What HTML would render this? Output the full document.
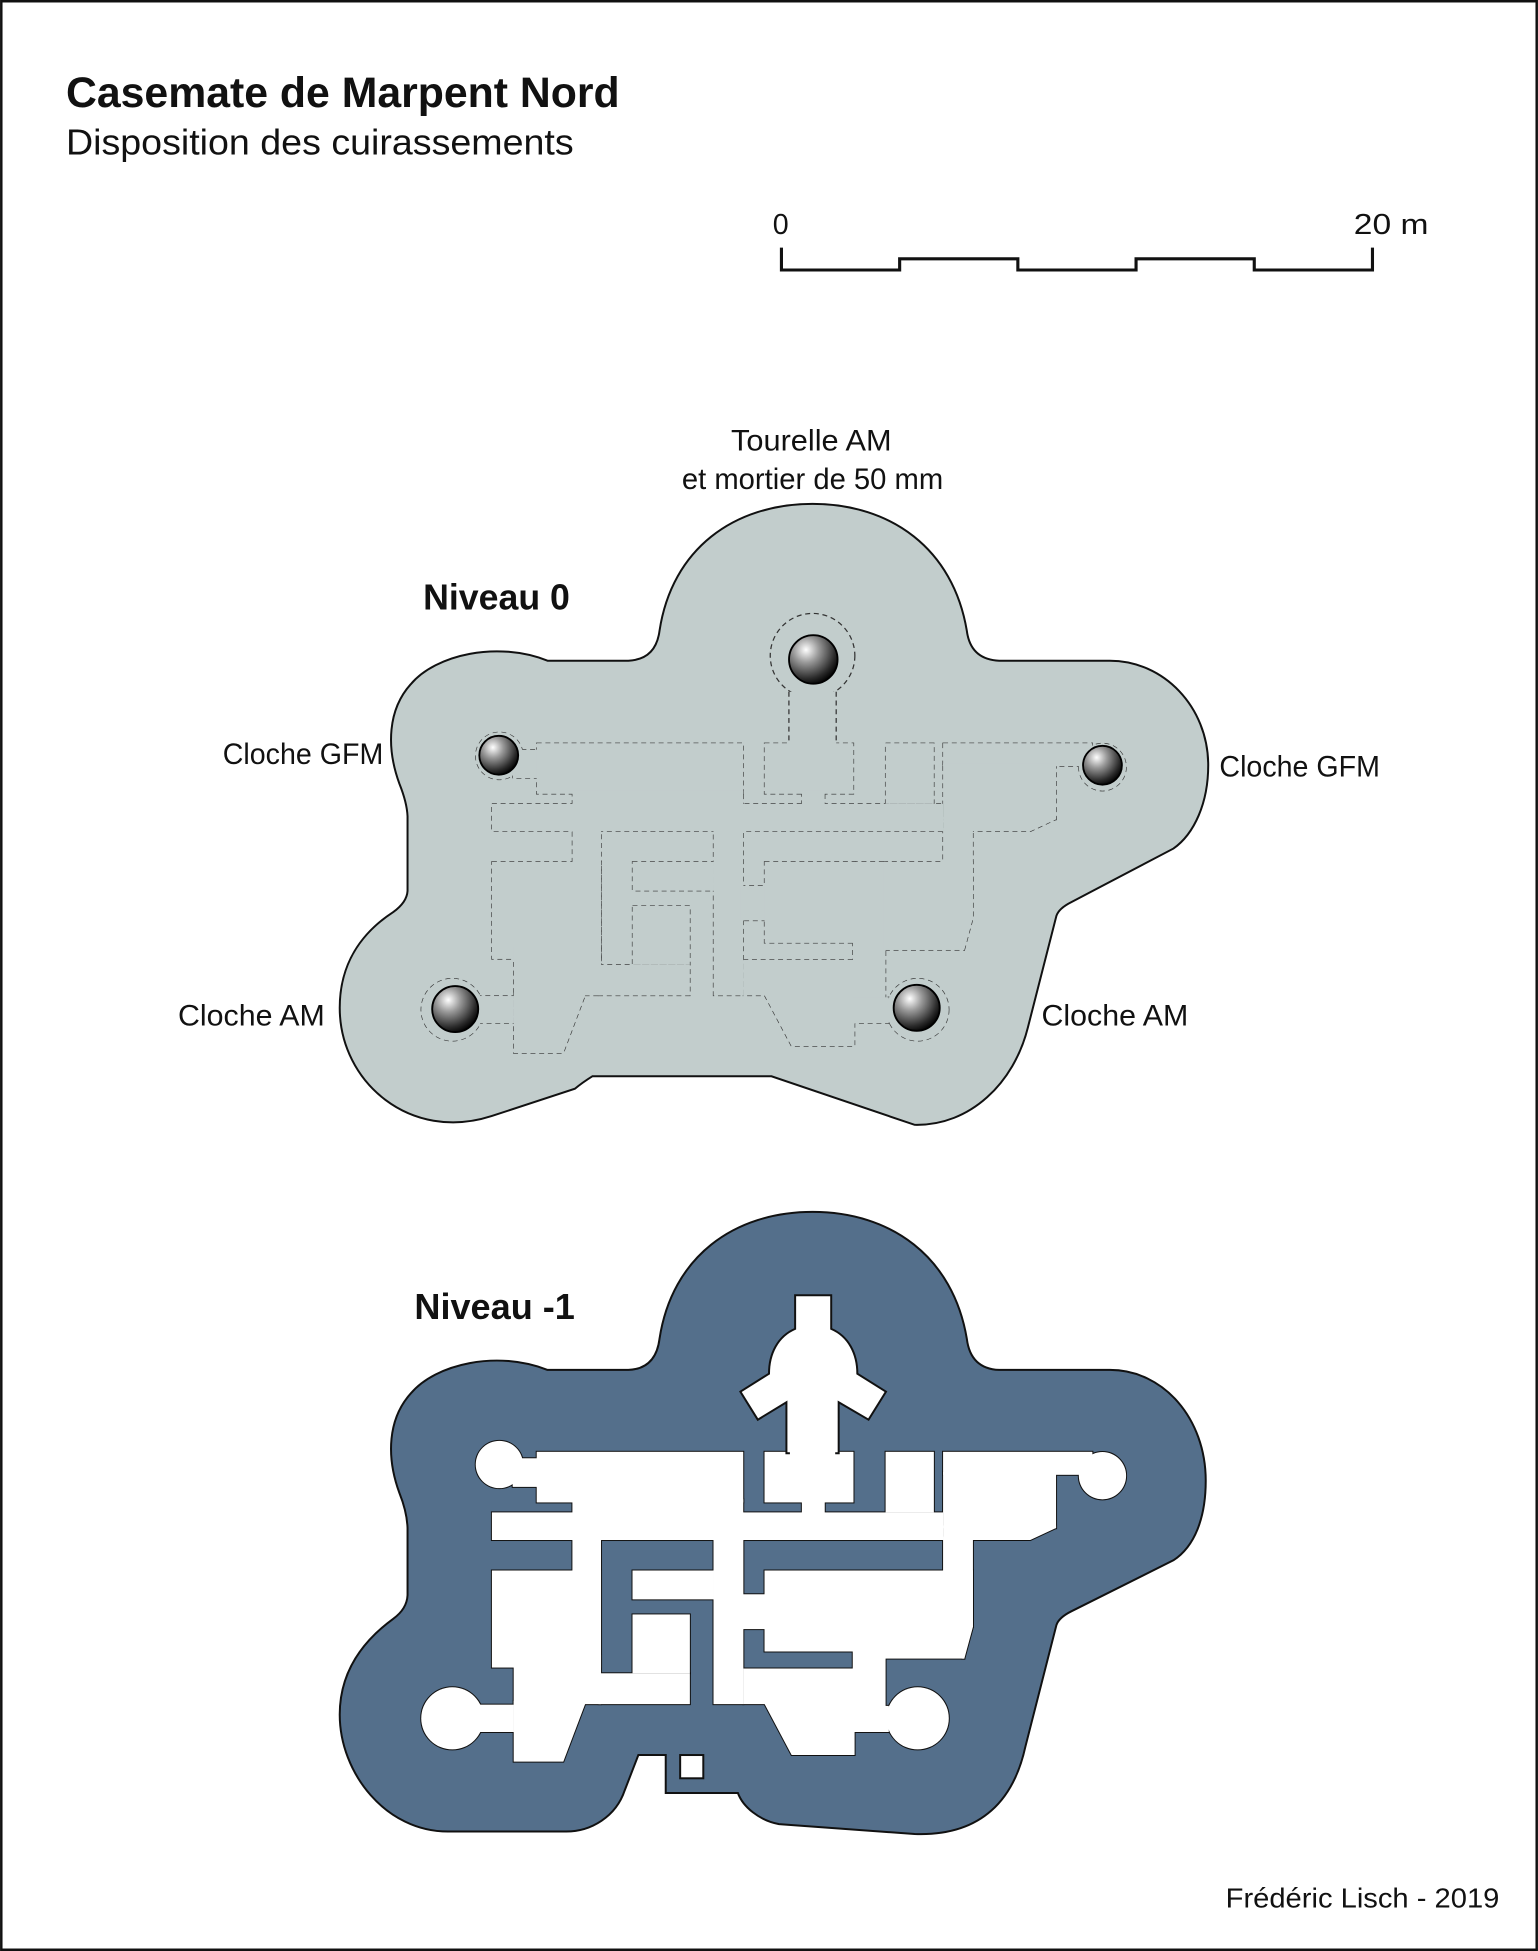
<!DOCTYPE html>
<html><head><meta charset="utf-8"><style>
html,body{margin:0;padding:0;background:#fff}
svg{display:block}
text{font-family:"Liberation Sans",sans-serif;fill:#111}
</style></head><body>
<svg width="1538" height="1951" viewBox="0 0 1236 1568" xmlns="http://www.w3.org/2000/svg">
<defs>
<radialGradient id="ball" cx="0.35" cy="0.3" r="0.75">
<stop offset="0" stop-color="#ffffff"/><stop offset="0.35" stop-color="#9a9a9a"/><stop offset="0.8" stop-color="#2a2a2a"/><stop offset="1" stop-color="#000"/>
</radialGradient>
<g id="w">
<circle cx="401.3" cy="1177" r="19"/>
<rect x="412" y="1172" width="20" height="23"/>
<rect x="431.3" y="1166.8" width="166" height="40.7"/>
<rect x="460" y="1205" width="137.3" height="12"/>
<rect x="614.4" y="1166.8" width="71.5" height="40.7"/>
<rect x="644.4" y="1205" width="18.4" height="12"/>
<rect x="711.7" y="1166.8" width="38.8" height="48.7"/>
<rect x="757.9" y="1166.8" width="120" height="18.5"/>
<circle cx="886" cy="1186" r="19"/>
<rect x="757.9" y="1183" width="90.8" height="45.2"/>
<polygon points="757.9,1226 848.7,1226 848.7,1228 828,1237.7 757.9,1237.7"/>
<rect x="395.3" y="1215.5" width="362.6" height="22.2"/>
<rect x="460" y="1235" width="23" height="110"/>
<rect x="395.3" y="1262.2" width="87.7" height="78"/>
<rect x="412.8" y="1330" width="70.2" height="39.6"/>
<circle cx="363.5" cy="1381" r="25"/>
<rect x="383" y="1370" width="30" height="22"/>
<rect x="508.3" y="1262.2" width="65.1" height="23.2"/>
<rect x="508.3" y="1297.5" width="46.1" height="47.3"/>
<rect x="481" y="1344.8" width="73.4" height="24.8"/>
<rect x="573.4" y="1235" width="24" height="134.6"/>
<polygon points="412.8,1367 471.2,1367 452.7,1415.8 412.8,1415.8"/>
<polygon points="597.3,1341 686.8,1341 686.8,1410.5 636.2,1410.5 614.5,1369.6 597.3,1369.6"/>
<rect x="595" y="1281.3" width="21" height="28"/>
<rect x="614.4" y="1262.2" width="72.9" height="65.1"/>
<rect x="685.3" y="1262.2" width="26.4" height="109"/>
<rect x="685.3" y="1371" width="29" height="21"/>
<circle cx="737.5" cy="1381" r="25"/>
<rect x="709.7" y="1262.2" width="65.3" height="70.8"/>
<rect x="757.9" y="1235" width="24" height="72.6"/>
<polygon points="773,1262 781.9,1262 781.9,1307.6 775,1333 773,1333"/>
</g>
</defs>

<rect x="1" y="1" width="1234" height="1566" fill="#fff" stroke="#111" stroke-width="2"/>

<text x="53" y="86" font-size="34" font-weight="bold" textLength="445" lengthAdjust="spacingAndGlyphs">Casemate de Marpent Nord</text>
<text x="53" y="124" font-size="29" textLength="408" lengthAdjust="spacingAndGlyphs">Disposition des cuirassements</text>

<text x="621" y="188" font-size="23">0</text>
<text x="1088" y="188" font-size="23" textLength="60" lengthAdjust="spacingAndGlyphs">20 m</text>
<path d="M628,199 V217 H723 V208 H818 V217 H913 V208 H1008 V217 H1103 V199" fill="none" stroke="#111" stroke-width="2.5"/>

<!-- Niveau 0 -->
<path d="M440,531 L505,531 Q527,530 530,507 C540,441 590,405 653,405 C716,405 766,441 777,507 Q780,530 803,531 L892,531 C935,531 971,568 971,615 C971,645 960,670 943,682 L861,725 Q851,730 849,736 L826,826 C815,870 780,905 735,904 L620,865 L476,865 Q468,870 462,875 L395,897 C330,918 273,870 273,810 C273,775 290,750 316,733 Q327,725 327.5,716 L327.5,656 Q327,645 321,630 C310,600 312,570 330,550 C350,526 400,515 440,531 Z" fill="#c2cdcc" stroke="#111" stroke-width="1.6"/>
<g transform="translate(0,-569.5)">
<use href="#w" fill="none" stroke="#333" stroke-width="1" stroke-dasharray="4,3"/>
<use href="#w" fill="#c2cdcc" stroke="none"/>
</g>
<circle cx="653" cy="527" r="34" fill="none" stroke="#333" stroke-width="1" stroke-dasharray="4,3"/>
<rect x="634" y="556" width="38" height="44" fill="#c2cdcc"/>
<path d="M634,556 V598 M672,556 V598" stroke="#333" stroke-width="1" stroke-dasharray="4,3"/>
<circle cx="653.6" cy="530" r="19.5" fill="url(#ball)" stroke="#000" stroke-width="1.5"/>
<circle cx="400.8" cy="607" r="15.6" fill="url(#ball)" stroke="#000" stroke-width="1.5"/>
<circle cx="886" cy="615" r="15.6" fill="url(#ball)" stroke="#000" stroke-width="1.5"/>
<circle cx="365.8" cy="811" r="18.5" fill="url(#ball)" stroke="#000" stroke-width="1.5"/>
<circle cx="736.7" cy="810" r="18.5" fill="url(#ball)" stroke="#000" stroke-width="1.5"/>

<text x="340" y="490" font-size="29" font-weight="bold" textLength="118" lengthAdjust="spacingAndGlyphs">Niveau 0</text>
<text x="652" y="362" font-size="24" text-anchor="middle" textLength="129" lengthAdjust="spacingAndGlyphs">Tourelle AM</text>
<text x="653" y="393" font-size="24" text-anchor="middle" textLength="210" lengthAdjust="spacingAndGlyphs">et mortier de 50 mm</text>
<text x="179" y="614" font-size="24" textLength="129" lengthAdjust="spacingAndGlyphs">Cloche GFM</text>
<text x="980" y="624" font-size="24" textLength="129" lengthAdjust="spacingAndGlyphs">Cloche GFM</text>
<text x="143" y="824" font-size="24" textLength="118" lengthAdjust="spacingAndGlyphs">Cloche AM</text>
<text x="837" y="824" font-size="24" textLength="118" lengthAdjust="spacingAndGlyphs">Cloche AM</text>

<!-- Niveau -1 -->
<path d="M440,1101 L505,1101 Q527,1100 530,1076 C540,1010 590,974 653,974 C716,974 766,1010 777,1076 Q780,1100 803,1101 L892,1101 C935,1101 969,1140 969,1190 C969,1220 960,1243 943,1254 L861,1295 Q851,1300 849,1306 L824,1404 C815,1445 790,1476 735,1474 L626,1466 C610,1463 597,1452 593,1441 L535,1441 L535,1410.5 L513,1410.5 L502,1439 C495,1460 475,1472 455,1472 L360,1472 C310,1472 273,1425 273,1378 C273,1345 290,1320 316,1301 Q327,1293 327.5,1282 L327.5,1228 Q327,1215 321,1200 C310,1170 312,1140 330,1120 C350,1096 400,1085 440,1101 Z" fill="#546f8b" stroke="#111" stroke-width="1.6"/>
<use href="#w" fill="#fff" stroke="#111" stroke-width="1.6"/>
<use href="#w" fill="#fff" stroke="none"/>
<path d="M639,1041 H668 V1068 C682,1074 689,1088 689,1104 L712,1118.5 L698,1141 L674,1127 V1168 H632 V1127 L609,1141 L595,1118.5 L618,1104 C618,1088 625,1074 639,1068 Z" fill="#fff" stroke="#111" stroke-width="1.6"/>
<rect x="634.8" y="1160" width="36.4" height="10" fill="#fff"/>
<rect x="546.6" y="1410.5" width="18.6" height="18.7" fill="#fff" stroke="#111" stroke-width="1.6"/>

<text x="333" y="1060" font-size="29" font-weight="bold" textLength="129" lengthAdjust="spacingAndGlyphs">Niveau -1</text>

<text x="985" y="1533" font-size="22" textLength="220" lengthAdjust="spacingAndGlyphs">Frédéric Lisch - 2019</text>
</svg>
</body></html>
